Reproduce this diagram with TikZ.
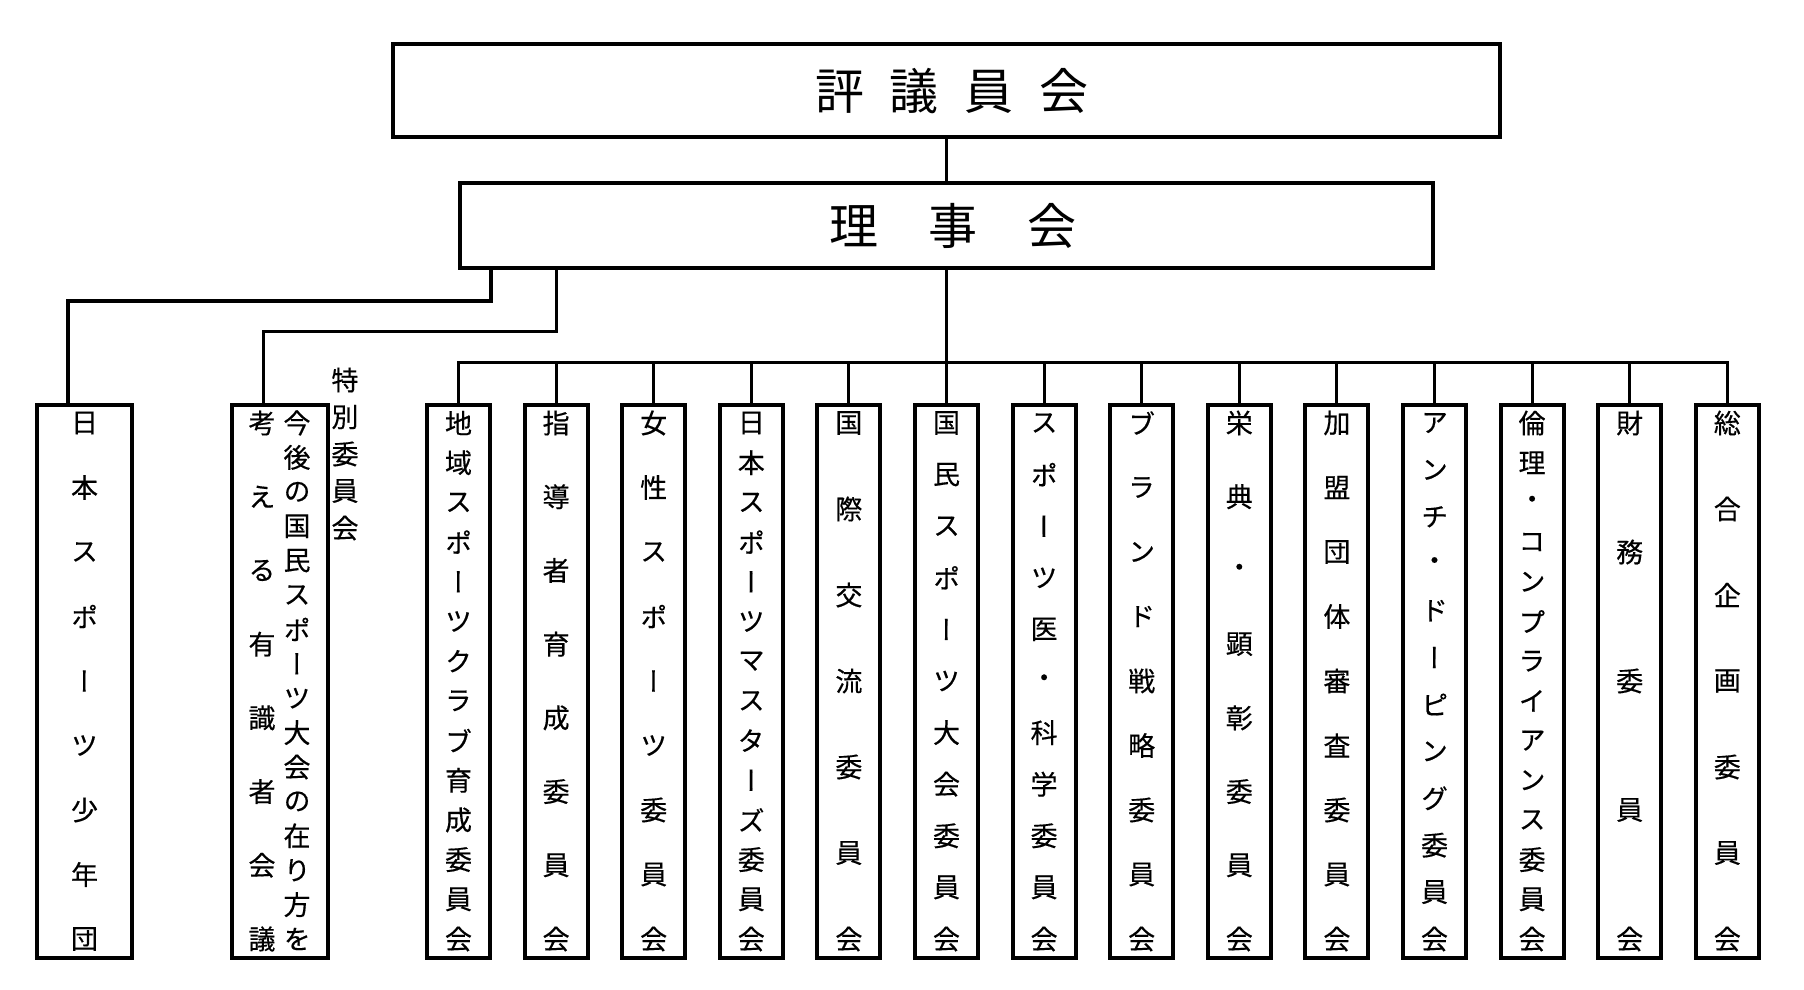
\documentclass[tikz,border=0pt]{standalone}
\usepackage{fontspec}
\usepackage{tikz}
\usetikzlibrary{positioning,calc}
\newfontfamily\jp[RawFeature=+vert, FakeBold=0.4]{Noto Sans CJK JP}
\newfontfamily\jph{Noto Sans CJK JP}
\tikzset{
  cbox/.style={draw, line width=4pt, minimum width=63pt, minimum height=553pt, inner sep=0pt},
  tbox/.style={draw, line width=4pt, inner sep=0pt},
  kanji/.style={font=\jp\fontsize{27}{27}\selectfont, inner sep=0pt},
  title/.style={font=\jph\fontsize{49}{49}\selectfont, inner sep=0pt},
  link/.style={line width=3pt, line cap=rect}
}
% column of characters spread from top to bottom of a box
\newcommand{\vcol}[4][0]{%
  \foreach \c [count=\i] in {#4}
    \node[kanji] (#2-#1-\i) at ([xshift=#1pt, yshift={-(20+(\i-1)*516/(#3-1))*1pt}]#2.north) {\c};}
\begin{document}
\begin{tikzpicture}[x=1pt,y=-1pt]
    \useasboundingbox (0,0) rectangle (1804,990);
    % top boxes
    \node[tbox, minimum width=1107pt, minimum height=93pt] (council) at (946.5,90.5) {};
    \node[tbox, minimum width=973pt, minimum height=85pt] (board) at (946.5,225.5) {};
    \node[title] (council-t) at (952,91) {評\hspace{26pt}議\hspace{26pt}員\hspace{26pt}会};
    \node[title] (board-t) at (953,226) {理\hspace{50pt}事\hspace{50pt}会};
    % committee boxes
    \node[cbox, minimum width=95pt] (b1) at (84.5,681.5) {};
    \node[cbox, minimum width=96pt] (b2) at (280,681.5) {};
    \foreach \k in {0,...,13}
        \node[cbox] (c\k) at ({458.5+97.6*\k},681.5) {};
    % connectors
    \coordinate (busy) at (0,362);
    \draw[link] (council.south) -- (council.south |- board.north);
    \draw[link, line width=4pt] ([xshift=33pt]board.south west) -- ++(0,31) -| ([xshift=-16.5pt]b1.north);
    \draw[link] ([xshift=98pt]board.south west) -- ++(0,61) -| ([xshift=-17pt]b2.north);
    \draw[link] (board.south) -- (board.south |- busy);
    \draw[link] (c0.north |- busy) -- (c13.north |- busy);
    \foreach \k in {0,...,13}
        \draw[link] (c\k.north) -- (c\k.north |- busy);
    % texts
    \vcol{b1}{9}{日,本,ス,ポ,ー,ツ,少,年,団}
    \vcol[17]{b2}{16}{今,後,の,国,民,ス,ポ,ー,ツ,大,会,の,在,り,方,を}
    \vcol[-18]{b2}{8}{考,え,る,有,識,者,会,議}
    \foreach \c [count=\i] in {特,別,委,員,会}
        \node[kanji] (sp-\i) at (345,{343+37*\i}) {\c};
    \vcol{c0}{14}{地,域,ス,ポ,ー,ツ,ク,ラ,ブ,育,成,委,員,会}
    \vcol{c1}{8}{指,導,者,育,成,委,員,会}
    \vcol{c2}{9}{女,性,ス,ポ,ー,ツ,委,員,会}
    \vcol{c3}{14}{日,本,ス,ポ,ー,ツ,マ,ス,タ,ー,ズ,委,員,会}
    \vcol{c4}{7}{国,際,交,流,委,員,会}
    \vcol{c5}{11}{国,民,ス,ポ,ー,ツ,大,会,委,員,会}
    \vcol{c6}{11}{ス,ポ,ー,ツ,医,・,科,学,委,員,会}
    \vcol{c7}{9}{ブ,ラ,ン,ド,戦,略,委,員,会}
    \vcol{c8}{8}{栄,典,・,顕,彰,委,員,会}
    \vcol{c9}{9}{加,盟,団,体,審,査,委,員,会}
    \vcol{c10}{12}{ア,ン,チ,・,ド,ー,ピ,ン,グ,委,員,会}
    \vcol{c11}{14}{倫,理,・,コ,ン,プ,ラ,イ,ア,ン,ス,委,員,会}
    \vcol{c12}{5}{財,務,委,員,会}
    \vcol{c13}{7}{総,合,企,画,委,員,会}
\end{tikzpicture}
\end{document}
